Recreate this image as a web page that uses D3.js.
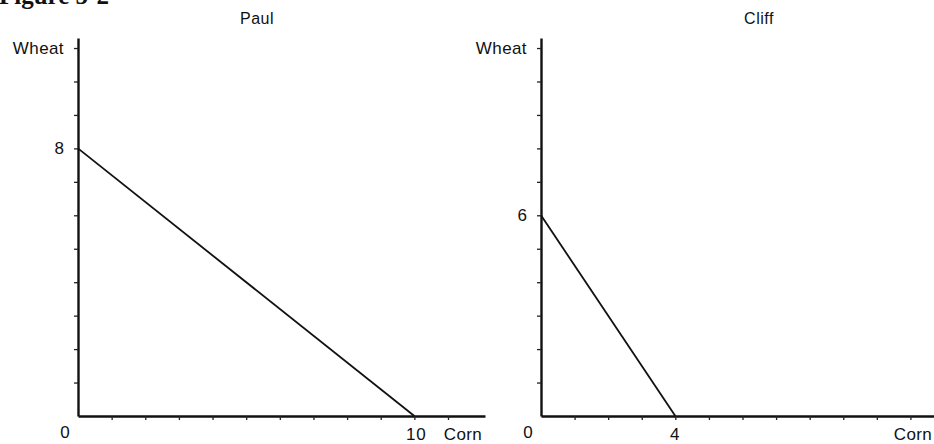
<!DOCTYPE html>
<html>
<head>
<meta charset="utf-8">
<script src="https://cdn.jsdelivr.net/npm/d3@7"></script>
<style>
  body { margin: 0; background: #fff; }
  svg { display: block; }
  text { font-family: "Liberation Sans", Arial, sans-serif; fill: #111; }
</style>
</head>
<body>
<div id="chart"></div>
<script>
// two production possibility frontiers: wheat (y) vs corn (x)
const people = ["Paul", "Cliff"];
const maxWheat = [8, 6];
const maxCorn = [10, 4];
const yLabels = ["8", "6"];
const xLabels = ["10", "4"];
const xAxisTitle = ["Corn", "Corn"];
const yAxisTitle = "Wheat";
const figTitle = "Figure 5-2";

const width = 934;
const height = 444;

const svg = d3.select("#chart").append("svg")
  .attr("width", width)
  .attr("height", height);

// figure caption, mostly cut off at the top of the scan
svg.append("text")
  .attr("x", -1)
  .attr("y", 4)
  .style("font-family", "'Liberation Serif', serif")
  .style("font-weight", "bold")
  .style("font-size", "25px")
  .text(figTitle);

// each panel: origin x, right end of x axis (in px)
const panels = [
  {x0: 78, x1: 485, xMax: 12.1},
  {x0: 541, x1: 944, xMax: 12}
];

const y = d3.scaleLinear().domain([0, 11.3]).range([416, 38]);

panels.forEach((p, i) => {
  const x = d3.scaleLinear().domain([0, p.xMax]).range([p.x0, p.x1]);
  const g = svg.append("g");

  // y axis
  g.append("g")
    .attr("transform", `translate(${p.x0},0)`)
    .call(d3.axisLeft(y).tickValues(d3.range(1, 12)).tickSize(4).tickSizeOuter(0).tickFormat(""))
    .call(a => a.select(".domain").attr("stroke", "#111").attr("stroke-width", 2.4))
    .call(a => a.selectAll(".tick line").attr("stroke", "#222").attr("stroke-width", 1.3));

  // x axis
  g.append("g")
    .attr("transform", `translate(0,${y(0)})`)
    .call(d3.axisBottom(x).tickValues(d3.range(1, 12)).tickSize(4).tickSizeOuter(0).tickFormat(""))
    .call(a => a.select(".domain").attr("stroke", "#111").attr("stroke-width", 2.4))
    .call(a => a.selectAll(".tick line").attr("stroke", "#222").attr("stroke-width", 1.3));

  // the frontier
  g.append("path")
    .datum([[0, maxWheat[i]], [maxCorn[i], 0]])
    .attr("fill", "none")
    .attr("stroke", "#111")
    .attr("stroke-width", 1.8)
    .attr("d", d3.line().x(d => x(d[0])).y(d => y(d[1])));

  // titles and labels
  g.append("text")
    .attr("x", i === 0 ? 257 : 759)
    .attr("y", 24)
    .attr("text-anchor", "middle")
    .style("font-size", "16px")
    .style("letter-spacing", "0.5px")
    .text(people[i]);

  g.append("text")
    .attr("x", p.x0 - 14)
    .attr("y", 54)
    .attr("text-anchor", "end")
    .style("font-size", "17px")
    .style("letter-spacing", "0.4px")
    .text(yAxisTitle);

  g.append("text")
    .attr("x", p.x0 - 14)
    .attr("y", y(maxWheat[i]) + 6)
    .attr("text-anchor", "end")
    .style("font-size", "17px")
    .text(yLabels[i]);

  g.append("text")
    .attr("x", p.x0 - 13)
    .attr("y", 438)
    .attr("text-anchor", "middle")
    .style("font-size", "17px")
    .text("0");

  g.append("text")
    .attr("x", x(maxCorn[i]) + (i === 0 ? 2 : 0))
    .attr("y", 440)
    .attr("text-anchor", "middle")
    .style("font-size", "17px")
    .style("letter-spacing", "1px")
    .text(xLabels[i]);

  g.append("text")
    .attr("x", i === 0 ? 463 : 913)
    .attr("y", 440)
    .attr("text-anchor", "middle")
    .style("font-size", "17px")
    .style("letter-spacing", "0.4px")
    .text(xAxisTitle[i]);
});
</script>
</body>
</html>
